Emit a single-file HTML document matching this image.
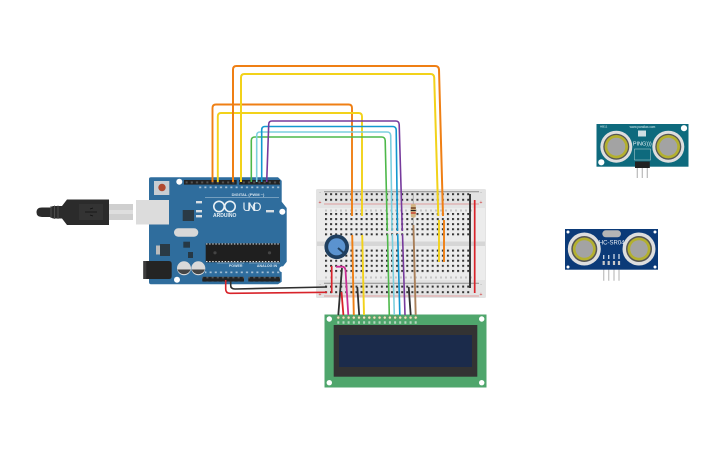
<!DOCTYPE html>
<html><head><meta charset="utf-8"><style>
html,body{margin:0;padding:0;background:#fff;width:725px;height:453px;overflow:hidden}
svg{display:block}
text{font-family:"Liberation Sans",sans-serif}
</style></head><body>
<svg width="725" height="453" viewBox="0 0 725 453" xmlns="http://www.w3.org/2000/svg">
<defs>
<pattern id="h" x="325" y="213" width="5.08" height="5.08" patternUnits="userSpaceOnUse"><rect x="0" y="0" width="2" height="2" fill="#333"/></pattern>
<pattern id="h2" x="325" y="249.6" width="5.08" height="5.08" patternUnits="userSpaceOnUse"><rect x="0" y="0" width="2" height="2" fill="#333"/></pattern>
<pattern id="r" x="325" y="193.2" width="5.08" height="5.6" patternUnits="userSpaceOnUse"><rect x="0" y="0" width="2" height="2" fill="#333"/></pattern>
<pattern id="r2" x="325" y="285.6" width="5.08" height="5.6" patternUnits="userSpaceOnUse"><rect x="0" y="0" width="2" height="2" fill="#333"/></pattern>
<pattern id="hd" x="184" y="180" width="5.2" height="5" patternUnits="userSpaceOnUse"><rect width="5.2" height="5" fill="#222"/><rect x="1.6" y="1.4" width="2" height="2" fill="#555"/></pattern>
<pattern id="pl" x="0" y="0" width="5.2" height="5" patternUnits="userSpaceOnUse"><rect x="1.6" y="1" width="2" height="2.2" fill="#c5d6e4"/></pattern>
</defs>

<!-- USB cable -->
<path d="M42 207.5H50L53 206H62L67 199.5H109V225L67 225L62 218.5H53L50 217H42Q36.5 217 36.5 212.3Q36.5 207.5 42 207.5Z" fill="#2b2b2b"/>
<path d="M51 206V218M54.5 205.5V219M58 205.5V219" stroke="#555" stroke-width=".8"/>
<rect x="79" y="204" width="24" height="16" fill="#333"/>
<path d="M85 212H97M90 209l3-1M90 215l3 1" stroke="#111" stroke-width=".8" fill="none"/>
<rect x="109" y="204" width="24" height="16" fill="#cfcfcf"/>
<rect x="109" y="210" width="24" height="4" fill="#dedede"/>

<!-- Arduino -->
<path d="M151 177.3H278L281.7 180.7V201.7L286.7 208V261.7L281.7 268V281.7L278 284.3H151Q149 284.3 149 282V179Q149 177.3 151 177.3Z" fill="#2f6d9d"/>
<rect x="136" y="200" width="33" height="24.5" fill="#dcdcdc"/>
<rect x="154" y="181" width="15.3" height="14" fill="#c7cdd2"/>
<circle cx="162" cy="187.5" r="3.7" fill="#b0492f"/>
<circle cx="179.3" cy="181.7" r="3" fill="#fff"/><circle cx="282.3" cy="211.7" r="3" fill="#fff"/>
<circle cx="282.3" cy="269.3" r="3" fill="#fff"/><circle cx="177" cy="279.7" r="3" fill="#fff"/>
<rect x="184" y="180" width="52.7" height="4.6" fill="url(#hd)"/>
<rect x="239" y="180" width="41" height="4.6" fill="url(#hd)"/>
<rect x="202.3" y="276.8" width="41.7" height="4.8" fill="url(#hd)"/>
<rect x="248.3" y="276.8" width="31.7" height="4.8" fill="url(#hd)"/>
<rect x="197" y="186.5" width="83" height="3" fill="url(#pl)" opacity=".8"/>
<rect x="205" y="271.5" width="75" height="3" fill="url(#pl)" opacity=".8"/>
<path d="M205 197.5H279M217 263H244M249 263H280" stroke="#b9cfdf" stroke-width=".5"/>
<text x="248" y="196" font-size="4" font-weight="bold" fill="#d5e3ee" text-anchor="middle">DIGITAL (PWM ~)</text>
<text x="235.7" y="267" font-size="3.6" font-weight="bold" fill="#d5e3ee" text-anchor="middle">POWER</text>
<text x="267" y="267" font-size="3.6" font-weight="bold" fill="#d5e3ee" text-anchor="middle">ANALOG IN</text>
<circle cx="219" cy="206.5" r="5.2" fill="none" stroke="#e8f0f5" stroke-width="1.6"/>
<circle cx="230" cy="206.5" r="5.2" fill="none" stroke="#e8f0f5" stroke-width="1.6"/>
<text x="224.7" y="216.8" font-size="5" font-weight="bold" fill="#e8f0f5" text-anchor="middle">ARDUINO</text>
<text x="252" y="211" font-size="12" fill="#e8f0f5" text-anchor="middle" textLength="19">UNO</text>
<rect x="196" y="201" width="6" height="2.4" fill="#d8dee3"/><rect x="196" y="210" width="6" height="2.4" fill="#d8dee3"/><rect x="196" y="215" width="6" height="2.4" fill="#d8dee3"/>
<rect x="266" y="210" width="8" height="2.4" fill="#d8dee3"/>
<rect x="182.7" y="210" width="11.3" height="11" fill="#2a3a45"/>
<rect x="174" y="228.3" width="24.3" height="8.4" rx="4.2" fill="#d8d8d8"/>
<rect x="183.3" y="241.7" width="6.7" height="6" fill="#263845"/>
<rect x="156" y="245.5" width="4" height="9" fill="#bbb"/><rect x="160" y="244" width="10" height="12" fill="#2a3a45"/>
<rect x="188" y="252" width="5" height="6" fill="#263845"/>
<rect x="205.7" y="243.3" width="74.3" height="19" fill="#1f1f1f"/>
<path d="M206 244H280M206 261.6H280" stroke="#ddd" stroke-width="1.1" stroke-dasharray="1.5 1.6"/>
<circle cx="215" cy="252.8" r="1.6" fill="#444"/><circle cx="269.5" cy="252.8" r="1.6" fill="#444"/>
<path d="M143.3 261H169Q171.7 261 171.7 264V276Q171.7 279 169 279H143.3Z" fill="#242424"/>
<rect x="143.3" y="261" width="3" height="18" fill="#3c3c3c"/>
<circle cx="184" cy="268.3" r="7" fill="#d9d9d9"/><path d="M177.4 269.5A7 7 0 0 0 190.6 269.5Z" fill="#444"/>
<circle cx="198.3" cy="268.3" r="7" fill="#d9d9d9"/><path d="M191.7 269.5A7 7 0 0 0 204.9 269.5Z" fill="#444"/>

<!-- Breadboard -->
<rect x="316" y="189" width="170" height="109" rx="1.5" fill="#e3e3e3"/>
<rect x="317" y="208" width="168" height="33.5" fill="#ececec"/>
<rect x="317" y="246" width="168" height="34" fill="#ececec"/>
<rect x="317" y="241.5" width="168" height="4.5" fill="#d6d6d6"/>
<path d="M324 191.7H479M324 283.3H479" stroke="#8d8d8d" stroke-width="1"/>
<path d="M324 204H479M324 296H479" stroke="#dc9c9c" stroke-width="1.1"/>
<rect x="325" y="193" width="146" height="10" fill="url(#r)"/>
<rect x="325" y="285.5" width="146" height="9" fill="url(#r2)"/>
<rect x="325" y="213" width="146" height="25" fill="url(#h)"/>
<rect x="325" y="249.5" width="146" height="25" fill="url(#h2)"/>
<path d="M325 210.5H472M325 277.5H472" stroke="#c5c5c5" stroke-width="2" stroke-dasharray="2 3"/>
<text x="320" y="193" font-size="4" fill="#555" text-anchor="middle">-</text>
<text x="320" y="204" font-size="5" fill="#c33" text-anchor="middle">+</text>
<text x="481" y="193" font-size="4" fill="#555" text-anchor="middle">-</text>
<text x="481" y="204" font-size="5" fill="#c33" text-anchor="middle">+</text>
<text x="320" y="285" font-size="4" fill="#555" text-anchor="middle">-</text>
<text x="320" y="296" font-size="5" fill="#c33" text-anchor="middle">+</text>
<text x="481" y="285" font-size="4" fill="#555" text-anchor="middle">-</text>
<text x="481" y="296" font-size="5" fill="#c33" text-anchor="middle">+</text>

<!-- LCD -->
<rect x="324.5" y="314.5" width="162" height="73" fill="#4fa66c"/>
<circle cx="329.3" cy="319" r="2.7" fill="#fff"/><circle cx="481.7" cy="319" r="2.7" fill="#fff"/>
<circle cx="329.3" cy="382.7" r="2.7" fill="#fff"/><circle cx="481.7" cy="382.7" r="2.7" fill="#fff"/>
<rect x="333.7" y="325" width="143.6" height="51.7" fill="#333"/>
<rect x="339" y="335" width="133" height="32" fill="#1b2b4b"/>
<g fill="#e9e6c4" stroke="#6f8a52" stroke-width=".5">
<circle cx="338.3" cy="317.6" r="1.5"/><circle cx="343.5" cy="317.6" r="1.5"/><circle cx="348.6" cy="317.6" r="1.5"/><circle cx="353.8" cy="317.6" r="1.5"/>
<circle cx="359" cy="317.6" r="1.5"/><circle cx="364.1" cy="317.6" r="1.5"/><circle cx="369.3" cy="317.6" r="1.5"/><circle cx="374.4" cy="317.6" r="1.5"/>
<circle cx="379.6" cy="317.6" r="1.5"/><circle cx="384.8" cy="317.6" r="1.5"/><circle cx="389.9" cy="317.6" r="1.5"/><circle cx="395.1" cy="317.6" r="1.5"/>
<circle cx="400.2" cy="317.6" r="1.5"/><circle cx="405.4" cy="317.6" r="1.5"/><circle cx="410.6" cy="317.6" r="1.5"/><circle cx="415.7" cy="317.6" r="1.5"/>
</g>
<path d="M337.3 322.5h2M342.5 322.5h2M347.6 322.5h2M352.8 322.5h2M358 322.5h2M363.1 322.5h2M368.3 322.5h2M373.4 322.5h2M378.6 322.5h2M383.8 322.5h2M388.9 322.5h2M394.1 322.5h2M399.2 322.5h2M404.4 322.5h2M409.6 322.5h2M414.7 322.5h2" stroke="#b5d6be" stroke-width="2.4"/>

<!-- Potentiometer -->
<circle cx="336.7" cy="246.8" r="12.3" fill="#1f3f5f"/>
<circle cx="336.7" cy="246.8" r="8.6" fill="#5b93cf"/>
<path d="M338 248L345 254" stroke="#1f3f5f" stroke-width="2"/>

<!-- Resistor -->
<path d="M413.3 195V225" stroke="#aaa" stroke-width="1"/>
<rect x="410.8" y="204" width="5" height="13.5" rx="1.8" fill="#d2b483"/>
<path d="M410.8 208H415.8" stroke="#6b3a1d" stroke-width="1.4"/>
<path d="M410.8 210.5H415.8" stroke="#222" stroke-width="1.2"/>
<path d="M410.8 213H415.8" stroke="#c62b1f" stroke-width="1.2"/>

<!-- Wires -->
<g fill="none" stroke-linecap="butt" stroke-linejoin="round">
<path d="M470 194V288" stroke="#2f2f2f" stroke-width="1.9"/>
<path d="M474.7 200V293" stroke="#d8232a" stroke-width="1.7"/>
<path d="M331.7 266V293" stroke="#d8232a" stroke-width="1.7"/>
<path d="M336 266.7H342Q345 266.7 345.5 270L348.3 315" stroke="#c92f93" stroke-width="1.8"/>
<path d="M342 268L338.3 315" stroke="#2f2f2f" stroke-width="1.8"/>
<path d="M341.5 292L343.4 315" stroke="#d8232a" stroke-width="1.8"/>
<path d="M357.3 287L359.2 315" stroke="#2f2f2f" stroke-width="1.8"/>
<path d="M408.7 287L410.7 315" stroke="#2f2f2f" stroke-width="1.8"/>
<path d="M413.4 225L415.7 315" stroke="#a9805a" stroke-width="1.9"/>
<path d="M230.7 281V285.5Q230.7 289 235 289L327 287" stroke="#2f2f2f" stroke-width="1.6"/>
<path d="M225.7 280V289Q225.7 293.3 230 293.3L327 292.3" stroke="#d8232a" stroke-width="1.6"/>
<path d="M212.5 182V108Q212.5 104.5 216 104.5H348.5Q352 104.5 352 108V216" stroke="#ef7f14" stroke-width="1.9"/>
<path d="M352.2 235L353.8 315" stroke="#ef7f14" stroke-width="1.9"/>
<path d="M217.8 182V116.5Q217.8 113 221 113H358.5Q362 113 362 116.5V216" stroke="#f2d21a" stroke-width="1.9"/>
<path d="M362.2 235L364 315" stroke="#f2d21a" stroke-width="1.9"/>
<path d="M233 182V69.5Q233 66 236.5 66H435Q438.7 66 439 69.5L443 216" stroke="#ef7f14" stroke-width="2"/>
<path d="M444 220V262" stroke="#ef7f14" stroke-width="1.9"/>
<path d="M241 182V77.5Q241 74 244.5 74H430.5Q434 74 434.2 77.5L438.3 216" stroke="#f2d21a" stroke-width="2"/>
<path d="M439 220V262" stroke="#f2d21a" stroke-width="1.9"/>
<path d="M251.3 182V140.5Q251.3 137 255 137H381.5Q385 137 385.2 140.5L387.3 231" stroke="#4db84a" stroke-width="1.6"/>
<path d="M387.5 234L389.3 315" stroke="#4db84a" stroke-width="1.6"/>
<path d="M256.7 182V135.5Q256.7 132 260 132H387Q390.5 132 390.7 135.5L392 231" stroke="#7ccfde" stroke-width="1.6"/>
<path d="M392.3 234L394.3 315" stroke="#7ccfde" stroke-width="1.6"/>
<path d="M261.7 182V130Q261.7 126.5 265 126.5H392.5Q396 126.5 396.2 130L397.5 231" stroke="#1298cf" stroke-width="1.6"/>
<path d="M397.7 234L399.8 315" stroke="#1298cf" stroke-width="1.6"/>
<path d="M266.7 182L268.7 124.5Q268.7 121 272 121H395.5Q399 121 399.2 124.5L402.3 231" stroke="#763a9c" stroke-width="1.6"/>
<path d="M402.5 234L405 315" stroke="#763a9c" stroke-width="1.6"/>
</g>

<!-- PING sensor -->
<path d="M637.3 168V178M642.3 168V178M647.3 168V178" stroke="#b9b9b9" stroke-width="1.2"/>
<rect x="596.5" y="124" width="92" height="42.7" fill="#0e6a7d"/>
<circle cx="684" cy="128.2" r="3.1" fill="#fff"/><circle cx="601.3" cy="162.3" r="3.1" fill="#fff"/>
<circle cx="616.3" cy="146.7" r="16" fill="#dedede"/><circle cx="616.3" cy="146.7" r="13" fill="#555"/><circle cx="616.3" cy="146.7" r="11.7" fill="#b3b02f"/><circle cx="616.3" cy="146.7" r="9" fill="#a3a3a3"/>
<circle cx="668.3" cy="146.7" r="16" fill="#dedede"/><circle cx="668.3" cy="146.7" r="13" fill="#555"/><circle cx="668.3" cy="146.7" r="11.7" fill="#b3b02f"/><circle cx="668.3" cy="146.7" r="9" fill="#a3a3a3"/>
<text x="642.5" y="128" font-size="3.2" fill="#d8ecef" text-anchor="middle">www.parallax.com</text>
<text x="600" y="127.5" font-size="3" fill="#d8ecef">HB11</text>
<rect x="638" y="130.5" width="8" height="6" fill="#cfdfe3"/>
<text x="642.3" y="145.5" font-size="5.5" fill="#e8f3f5" text-anchor="middle">PING)))</text>
<rect x="634.5" y="149" width="16" height="11" fill="none" stroke="#bcd8dc" stroke-width=".5"/>
<rect x="635" y="161.5" width="14.8" height="6.5" fill="#222"/>

<!-- HC-SR04 -->
<path d="M603.7 265V280.7M608.7 265V280.7M614 265V280.7M619 265V280.7" stroke="#c4c4c4" stroke-width="1.3"/>
<rect x="565" y="229" width="93" height="40.7" fill="#0b3a78"/>
<circle cx="568" cy="232" r="1.5" fill="#fff"/><circle cx="655" cy="232" r="1.5" fill="#fff"/><circle cx="568" cy="267" r="1.5" fill="#fff"/><circle cx="655" cy="267" r="1.5" fill="#fff"/>
<circle cx="584.3" cy="249" r="16.5" fill="#dedede"/><circle cx="584.3" cy="249" r="13" fill="#555"/><circle cx="584.3" cy="249" r="11.5" fill="#b3b02f"/><circle cx="584.3" cy="249" r="8.8" fill="#a3a3a3"/>
<circle cx="639" cy="249" r="16.5" fill="#dedede"/><circle cx="639" cy="249" r="13" fill="#555"/><circle cx="639" cy="249" r="11.5" fill="#b3b02f"/><circle cx="639" cy="249" r="8.8" fill="#a3a3a3"/>
<rect x="602.3" y="230.3" width="18.7" height="7" rx="3.5" fill="#b5b5b5"/>
<text x="611.7" y="244.5" font-size="6" fill="#e6edf5" text-anchor="middle">HC-SR04</text>
<path d="M603.7 255V259M608.7 255V259M614 254V259M619 254V259" stroke="#cfd9e6" stroke-width="1.3"/>
<path d="M603.7 261V265M608.7 261V265M614 261V265M619 261V265" stroke="#c9c9c9" stroke-width="2.2"/>
</svg>
</body></html>
